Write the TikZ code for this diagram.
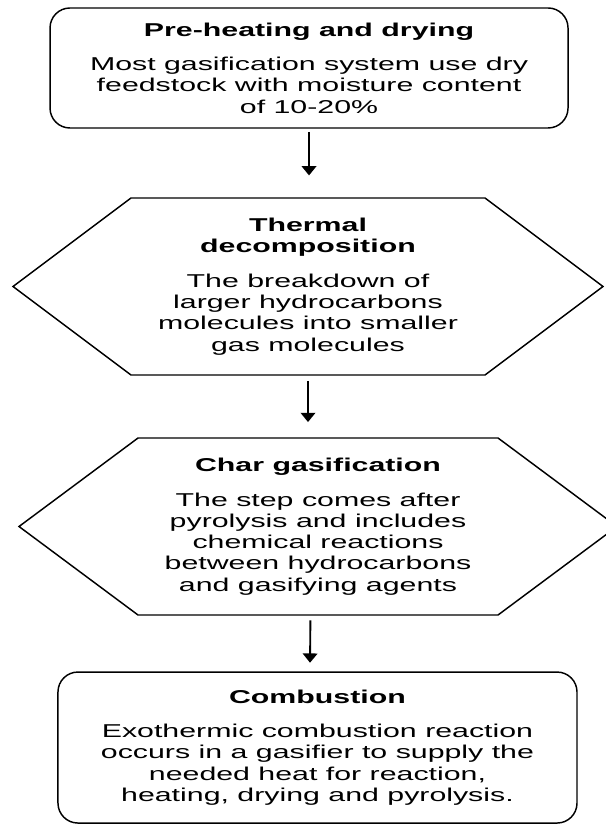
\documentclass[tikz,border=0pt]{standalone}
\usepackage{fontspec}
\setmainfont{Liberation Sans}[FakeStretch=1.63]
\usetikzlibrary{arrows.meta,calc,positioning}

\begin{document}
\begin{tikzpicture}[
  >={Triangle[width=11pt,length=7pt]},
  font=\fontsize{14}{16}\selectfont,
  stage/.style={rectangle,rounded corners=15pt,draw=black,line width=1.1pt,
    align=center,inner sep=0pt,outer sep=0pt},
  hexstage/.style={rectangle,draw=none,align=center,inner sep=0pt,outer sep=0pt,
    minimum width=#1,minimum height=4.683cm},
  hexline/.style={draw=black,line width=1.1pt,line join=miter},
  flow/.style={->,line width=1.4pt}
]
% page frame
\useasboundingbox (0,0) rectangle (16.007,-21.801);
% stages
\node[stage,minimum width=13.705cm,minimum height=3.175cm] (dry) at (8.176,-1.799)
  {\textbf{Pre-heating and drying}\\[10pt]
   Most gasification system use dry\\
   feedstock with moisture content\\
   of 10-20\%};
\node[hexstage=15.610cm] (therm) at (8.149,-7.580)
  {\textbf{Thermal}\\
   \textbf{decomposition}\\[10pt]
   The breakdown of\\
   larger hydrocarbons\\
   molecules into smaller\\
   gas molecules};
\node[hexstage=15.822cm] (char) at (8.414,-13.930)
  {\textbf{Char gasification}\\[10pt]
   The step comes after\\
   pyrolysis and includes\\
   chemical reactions\\
   between hydrocarbons\\
   and gasifying agents};
\node[stage,minimum width=13.732cm,minimum height=3.995cm] (comb) at (8.400,-19.778)
  {\textbf{Combustion}\\[10pt]
   Exothermic combustion reaction\\
   occurs in a gasifier to supply the\\
   needed heat for reaction,\\
   heating, drying and pyrolysis.};
% hexagon outlines
\foreach \h/\c in {therm/3.122,char/3.149}{
  \draw[hexline] (\h.west) -- ([xshift=\c cm]\h.north west)
    -- ([xshift=-\c cm]\h.north east) -- (\h.east)
    -- ([xshift=-\c cm]\h.south east) -- ([xshift=\c cm]\h.south west) -- cycle;
}
% arrows
\draw[flow,shorten <=3pt,shorten >=17pt] (dry.south) -- (therm.north -| dry.south);
\draw[flow,shorten <=4.5pt,shorten >=12pt] (therm.south) -- (char.north -| therm.south);
\draw[flow,shorten <=4pt,shorten >=7pt] ([xshift=-0.2cm]char.south) -- ([xshift=-0.2cm]comb.north);
\end{tikzpicture}
\end{document}
